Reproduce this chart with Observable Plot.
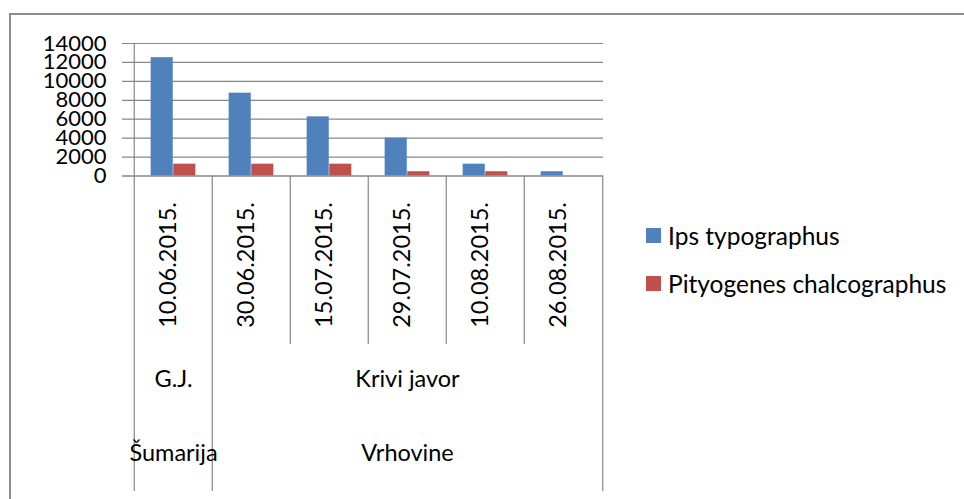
<!DOCTYPE html>
<html>
<head>
<meta charset="utf-8">
<script src="https://cdn.jsdelivr.net/npm/d3@7"></script>
<script src="https://cdn.jsdelivr.net/npm/@observablehq/plot@0.6"></script>
<style>
  html, body { margin: 0; padding: 0; background: #fff; overflow: hidden; }
  #wrap { position: relative; width: 964px; height: 499px; }
  #frame { position: absolute; left: 9px; top: 12.5px; width: 1100px; height: 700px;
           border: 2px solid #8c8c8c; box-sizing: border-box; pointer-events: none; }
  #legend { position: absolute; left: 646px; top: 222px; font-family: Lato, sans-serif;
            font-size: 24.5px; color: #000; }
  .item { display: flex; align-items: center; height: 26px; margin-bottom: 22px; white-space: nowrap; }
  .sw { width: 15px; height: 15px; margin-right: 7px; flex: none; }
</style>
</head>
<body>
<div id="wrap">
  <div id="chart"></div>
  <div id="frame"></div>
  <div id="legend"></div>
</div>
<script>
const dates = ["10.06.2015.", "30.06.2015.", "15.07.2015.", "29.07.2015.", "10.08.2015.", "26.08.2015."];
const ipsValues = [12500, 8750, 6250, 4000, 1250, 450];
const pityValues = [1250, 1250, 1250, 450, 450, 0];
const seriesNames = ["Ips typographus", "Pityogenes chalcographus"];
const seriesColors = ["#4F81BD", "#C0504D"];
const yTicks = [0, 2000, 4000, 6000, 8000, 10000, 12000, 14000];
const unitLabels = ["G.J.", "Krivi javor"];
const unitSpans = [1, 5];
const forestryLabels = ["Šumarija", "Vrhovine"];
const forestrySpans = [1, 5];

const W = 964, H = 499;
const mL = 132, mR = 361, mT = 43, mB = 323.5;
const step = (W - mL - mR) / dates.length;
const barW = 22.6;
const outer = (step - 2 * barW) / 2;
const gridColor = "#878787";

const ipsData = dates.map((d, i) => ({date: d, value: ipsValues[i]})).filter(d => d.value > 0);
const pityData = dates.map((d, i) => ({date: d, value: pityValues[i]})).filter(d => d.value > 0);

function spanLabels(labels, spans) {
  let start = 0;
  return labels.map((label, i) => {
    const s = spans[i];
    const mid = start + Math.floor((s - 1) / 2);
    const r = {label, date: dates[mid], start};
    start += s;
    return r;
  });
}
const units = spanLabels(unitLabels, unitSpans);
const forestries = spanLabels(forestryLabels, forestrySpans);

const groupStarts = new Set(units.map(u => u.start));
const longLeft = dates.filter((d, i) => groupStarts.has(i));
const shortLeft = dates.filter((d, i) => !groupStarts.has(i));
const lastDate = [dates[dates.length - 1]];

const longDown = 491 - (H - mB);
const shortDown = 344 - (H - mB);

const chart = Plot.plot({
  width: W, height: H,
  marginLeft: mL, marginRight: mR, marginTop: mT, marginBottom: mB,
  style: {fontFamily: "Lato, sans-serif", fontSize: "22px", color: "#000", background: "transparent", overflow: "visible"},
  x: {type: "band", domain: dates, padding: 0, axis: null},
  y: {domain: [0, 14000], axis: null},
  marks: [
    Plot.ruleY(yTicks, {y: d => d, stroke: gridColor, strokeWidth: 1.2, insetLeft: -10}),
    Plot.barY(ipsData, {x: "date", y: "value", fill: seriesColors[0], insetLeft: outer, insetRight: outer + barW}),
    Plot.barY(pityData, {x: "date", y: "value", fill: seriesColors[1], insetLeft: outer + barW, insetRight: outer}),
    Plot.ruleY([0], {stroke: gridColor, strokeWidth: 1.2, insetLeft: -10}),
    Plot.ruleX([dates[0]], {x: d => d, dx: -step / 2, stroke: gridColor, strokeWidth: 1.2}),
    Plot.ruleX(longLeft, {x: d => d, y1: 0, y2: 0, dx: -step / 2, insetBottom: -longDown, stroke: gridColor, strokeWidth: 1.2}),
    Plot.ruleX(shortLeft, {x: d => d, y1: 0, y2: 0, dx: -step / 2, insetBottom: -shortDown, stroke: gridColor, strokeWidth: 1.2}),
    Plot.ruleX(lastDate, {x: d => d, y1: 0, y2: 0, dx: step / 2, insetBottom: -longDown, stroke: gridColor, strokeWidth: 1.2}),
    Plot.text(yTicks, {y: d => d, text: d => String(d), frameAnchor: "left", textAnchor: "end", dx: -26, fill: "#000"}),
    Plot.text(dates, {x: d => d, text: d => d, frameAnchor: "bottom", rotate: -90, dy: 89, dx: 2, fill: "#000", fontSize: 23.5}),
    Plot.text(units, {x: "date", text: "label", frameAnchor: "bottom", dy: 211, fill: "#000", fontSize: 23.5}),
    Plot.text(forestries, {x: "date", text: "label", frameAnchor: "bottom", dy: 284.5, fill: "#000", fontSize: 23.5})
  ]
});
document.getElementById("chart").appendChild(chart);

const legend = document.getElementById("legend");
seriesNames.forEach((name, i) => {
  const item = document.createElement("div");
  item.className = "item";
  const sw = document.createElement("span");
  sw.className = "sw";
  sw.style.background = seriesColors[i];
  const t = document.createElement("span");
  t.textContent = name;
  item.appendChild(sw);
  item.appendChild(t);
  legend.appendChild(item);
});
</script>
</body>
</html>
